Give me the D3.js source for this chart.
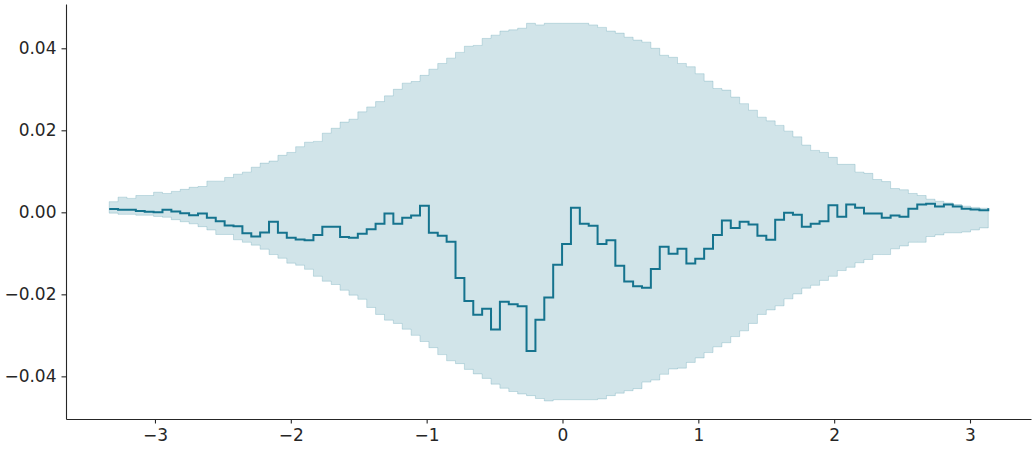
<!DOCTYPE html>
<html>
<head>
<meta charset="utf-8">
<script src="https://cdn.jsdelivr.net/npm/d3@7"></script>
<style>
  body { margin: 0; background: #fff; }
  svg text { font-family: "DejaVu Sans", sans-serif; }
</style>
</head>
<body>
<div id="chart"></div>
<script>
// step line of the mean with its band, one value per grid step

const X_START = -3.337;   // first grid position
const X_STEP = 0.06537;   // grid spacing

const meanValues = [
  0.0008, 0.0006, 0.0006, 0.0003, 0.00015, 0.0000, 0.0006, 0.0002, -0.0002, -0.0007,
  -0.0003, -0.0013, -0.0022, -0.0032, -0.0034, -0.0051, -0.0059, -0.0049, -0.0023, -0.0050,
  -0.0062, -0.0066, -0.0068, -0.0055, -0.0035, -0.0035, -0.0060, -0.0062, -0.0052, -0.0041,
  -0.0028, -0.0003, -0.0028, -0.0013, -0.0008, 0.0016, -0.0050, -0.0057, -0.0072, -0.0160,
  -0.0216, -0.0250, -0.0235, -0.0286, -0.0218, -0.0224, -0.0229, -0.0338, -0.0262, -0.0208,
  -0.0128, -0.0077, 0.0011, -0.0028, -0.0033, -0.0077, -0.0068, -0.0130, -0.0169, -0.0180,
  -0.0184, -0.0138, -0.0084, -0.0101, -0.0089, -0.0125, -0.0113, -0.0089, -0.0055, -0.0020,
  -0.0038, -0.0023, -0.0030, -0.0057, -0.0067, -0.0018, -0.0001, -0.0006, -0.0035, -0.0028,
  -0.0022, 0.0017, -0.0011, 0.0019, 0.0011, -0.0003, -0.0003, -0.0013, -0.0008, -0.0011,
  0.0009, 0.0019, 0.0021, 0.0014, 0.0019, 0.0014, 0.0009, 0.0007, 0.0005, 0.0010
];

const upperValues = [
  0.0026, 0.0037, 0.0034, 0.0041, 0.0041, 0.0049, 0.0046, 0.0051, 0.0056, 0.0061,
  0.0063, 0.0076, 0.0076, 0.0085, 0.0093, 0.0098, 0.0110, 0.0120, 0.0125, 0.0139,
  0.0146, 0.0160, 0.0171, 0.0173, 0.0193, 0.0205, 0.0220, 0.0227, 0.0245, 0.0257,
  0.0270, 0.0284, 0.0300, 0.0315, 0.0319, 0.0334, 0.0349, 0.0363, 0.0376, 0.0390,
  0.0405, 0.0407, 0.0424, 0.0432, 0.0442, 0.0445, 0.0449, 0.0461, 0.0457, 0.0461,
  0.0461, 0.0461, 0.0461, 0.0461, 0.0457, 0.0451, 0.0442, 0.0437, 0.0427, 0.0420,
  0.0415, 0.0400, 0.0383, 0.0378, 0.0363, 0.0355, 0.0338, 0.0320, 0.0302, 0.0298,
  0.0281, 0.0265, 0.0249, 0.0232, 0.0223, 0.0212, 0.0198, 0.0184, 0.0164, 0.0151,
  0.0146, 0.0134, 0.0117, 0.0117, 0.0098, 0.0095, 0.0080, 0.0075, 0.0058, 0.0055,
  0.0046, 0.0041, 0.0032, 0.0027, 0.0023, 0.0019, 0.0015, 0.0012, 0.0010, 0.0010
];

const lowerValues = [
  -0.0002, -0.0005, -0.0005, -0.0007, -0.0007, -0.0010, -0.0012, -0.0018, -0.0023, -0.0028,
  -0.0035, -0.0043, -0.0054, -0.0054, -0.0067, -0.0073, -0.0080, -0.0090, -0.0103, -0.0112,
  -0.0124, -0.0129, -0.0139, -0.0156, -0.0168, -0.0176, -0.0190, -0.0202, -0.0212, -0.0232,
  -0.0249, -0.0263, -0.0271, -0.0285, -0.0300, -0.0315, -0.0330, -0.0347, -0.0362, -0.0369,
  -0.0383, -0.0394, -0.0405, -0.0419, -0.0429, -0.0437, -0.0443, -0.0447, -0.0454, -0.0460,
  -0.0457, -0.0457, -0.0457, -0.0457, -0.0457, -0.0455, -0.0447, -0.0441, -0.0435, -0.0430,
  -0.0414, -0.0409, -0.0395, -0.0382, -0.0380, -0.0366, -0.0355, -0.0342, -0.0328, -0.0318,
  -0.0303, -0.0289, -0.0271, -0.0249, -0.0238, -0.0228, -0.0211, -0.0199, -0.0185, -0.0178,
  -0.0166, -0.0156, -0.0142, -0.0134, -0.0123, -0.0115, -0.0103, -0.0103, -0.0089, -0.0082,
  -0.0073, -0.0073, -0.0059, -0.0055, -0.0050, -0.0050, -0.0048, -0.0043, -0.0038, -0.0038
];

const xTicks = [-3, -2, -1, 0, 1, 2, 3];
const yTicks = [-0.04, -0.02, 0, 0.02, 0.04];

(function() {
  'use strict';

  const width = 1035, height = 450;
  const margin = { top: 4, right: 4, bottom: 31, left: 66 };
  const LINE_COLOR = '#15738e';
  const TEXT_COLOR = '#262626';

  const data = meanValues.map((m, i) => ({
    x: X_START + i * X_STEP,
    mean: m,
    hi: upperValues[i],
    lo: lowerValues[i]
  }));

  const svg = d3.select('#chart')
    .append('svg')
    .attr('width', width)
    .attr('height', height);

  const x = d3.scaleLinear()
    .domain([-3.655, 3.449])
    .range([margin.left, width - margin.right]);

  const y = d3.scaleLinear()
    .domain([-0.0504, 0.0508])
    .range([height - margin.bottom, margin.top]);

  // Band
  const area = d3.area()
    .curve(d3.curveStepAfter)
    .x(d => x(d.x))
    .y0(d => y(d.lo))
    .y1(d => y(d.hi));

  svg.append('path')
    .datum(data)
    .attr('d', area)
    .attr('fill', '#1a7891')
    .attr('fill-opacity', 0.2)
    .attr('stroke', '#1a7891')
    .attr('stroke-opacity', 0.2)
    .attr('stroke-width', 1);

  // Mean line
  const line = d3.line()
    .curve(d3.curveStepAfter)
    .x(d => x(d.x))
    .y(d => y(d.mean));

  svg.append('path')
    .datum(data)
    .attr('d', line)
    .attr('fill', 'none')
    .attr('stroke', LINE_COLOR)
    .attr('stroke-width', 2)
    .attr('stroke-linejoin', 'miter');

  // Axes
  const fmtY = v => (v < 0 ? '\u2212' : '') + Math.abs(v).toFixed(2);
  const fmtX = v => (v < 0 ? '\u2212' : '') + Math.abs(v);

  const xAxis = svg.append('g')
    .attr('transform', `translate(0,${height - margin.bottom})`)
    .call(d3.axisBottom(x).tickValues(xTicks).tickFormat(fmtX).tickSize(4.5).tickSizeOuter(0).tickPadding(5));

  const yAxis = svg.append('g')
    .attr('transform', `translate(${margin.left},0)`)
    .call(d3.axisLeft(y).tickValues(yTicks).tickFormat(fmtY).tickSize(4.5).tickSizeOuter(0).tickPadding(5));

  [xAxis, yAxis].forEach(g => {
    g.select('.domain').attr('stroke', TEXT_COLOR).attr('stroke-width', 1.1);
    g.selectAll('.tick line').attr('stroke', TEXT_COLOR).attr('stroke-width', 1.1);
    g.selectAll('.tick text')
      .attr('fill', TEXT_COLOR)
      .style('font-size', '17px')
      .style('font-family', '"DejaVu Sans", sans-serif');
  });
})();
</script>
</body>
</html>
